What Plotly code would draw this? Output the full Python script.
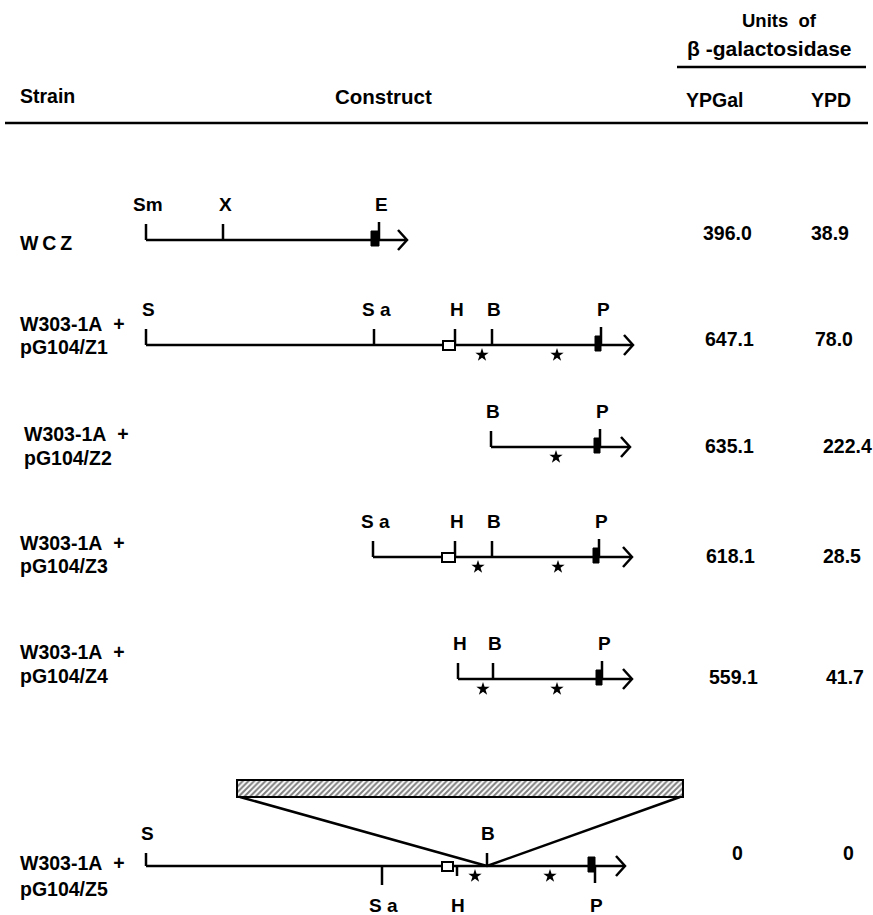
import plotly.graph_objects as go

# ---------------- data ----------------
strain_line1 = ["W\u2009C\u2009Z", "W303-1A\u00a0 +", "W303-1A\u00a0 +", "W303-1A\u00a0 +", "W303-1A\u00a0 +", "W303-1A\u00a0 +"]
strain_line2 = ["", "pG104/Z1", "pG104/Z2", "pG104/Z3", "pG104/Z4", "pG104/Z5"]
ypgal_units = ["396.0", "647.1", "635.1", "618.1", "559.1", "0"]
ypd_units = ["38.9", "78.0", "222.4", "28.5", "41.7", "0"]

# restriction-map positions along the construct axis (name, position, side)
wcz_sites = [("Sm", 146, "up"), ("X", 223, "up"), ("E", 379, "up")]
z1_sites = [("S", 146, "up"), ("S a", 374, "up"), ("H", 455, "up"), ("B", 492, "up"), ("P", 601, "up")]
z2_sites = [("B", 491, "up"), ("P", 600, "up")]
z3_sites = [("S a", 373, "up"), ("H", 455, "up"), ("B", 492, "up"), ("P", 599, "up")]
z4_sites = [("H", 458, "up"), ("B", 493, "up"), ("P", 602, "up")]
z5_sites = [("S", 146, "up"), ("S a", 382, "down"), ("H", 457, "down"), ("B", 487, "up"), ("P", 595, "down")]
construct_sites = [wcz_sites, z1_sites, z2_sites, z3_sites, z4_sites, z5_sites]

construct_start = [146, 146, 491, 373, 458, 146]
construct_end = [407, 633, 630, 632, 632, 625]
open_box = [None, (443, 455), None, (442, 455), None, (442, 453)]
lacz_box = [(371, 379), (595, 601), (594, 600), (593, 599), (596, 602), (588, 595)]
star_pos = [[], [482, 557], [556], [478, 558], [483, 557], [475, 550]]

insert_span = (237, 683)   # hatched insertion in Z5
insert_point = 487

# ---------------- layout ----------------
W, H = 873, 915
row_y = [240, 345, 447, 557, 679, 866]
strain_x = [18, 18, 22, 18, 18, 18]
strain_y1 = [243, 324, 434, 543, 652, 863]
strain_y2 = [None, 347, 458, 566, 676, 889]
ypgal_x = [727, 729, 729, 730, 733, 737]
ypd_x = [830, 834, 847, 842, 845, 848]
value_y = [233, 339, 446, 556, 677, 853]

FS = 19.5
FONT = dict(family="Liberation Sans, Arial, sans-serif", size=FS, color="black", weight="bold")
LW = 2.5

fig = go.Figure()
shapes = []
annotations = []


def line(x0, y0, x1, y1, w=LW):
    shapes.append(dict(type="line", xref="x", yref="y", x0=x0, y0=y0, x1=x1, y1=y1,
                       line=dict(color="black", width=w)))


def text(t, x, y, xanchor="center", size=FS):
    f = dict(FONT)
    f["size"] = size
    annotations.append(dict(text=t, x=x, y=y, xref="x", yref="y", xanchor=xanchor,
                            yanchor="middle", showarrow=False, font=f))


# header
text("Units\u00a0 of", 779, 20, size=18.5)
text("β -galactosidase", 769, 48, size=21)
line(677, 67, 866, 67)
text("Strain", 18, 96, xanchor="left")
text("Construct", 383, 96, size=20.5)
text("YPGal", 714, 100)
text("YPD", 831, 100)
line(5, 123, 868, 123)

star_x, star_y = [], []
for i in range(len(strain_line1)):
    y = row_y[i]
    text(strain_line1[i], strain_x[i], strain_y1[i], xanchor="left")
    if strain_line2[i]:
        text(strain_line2[i], strain_x[i], strain_y2[i], xanchor="left")
    text(ypgal_units[i], ypgal_x[i], value_y[i])
    text(ypd_units[i], ypd_x[i], value_y[i])
    # backbone + arrow
    tip = construct_end[i]
    line(construct_start[i], y, tip - 1, y)
    shapes.append(dict(type="path", xref="x", yref="y",
                       path=f"M {tip-9},{y-10} L {tip},{y} L {tip-9},{y+10}",
                       line=dict(color="black", width=LW)))
    # sites
    for name, pos, side in construct_sites[i]:
        if i == 5:
            if side == "up":
                line(pos, y - 13, pos, y)
                text(name, pos + 1, y - 33, size=19)
            else:
                L = {"S a": 19, "H": 10, "P": 17}.get(name, 14)
                line(pos, y, pos, y + L)
                text(name, pos + 1, y + 39, size=19)
        else:
            L = 18 if name in ("P", "E") else 16
            line(pos, y - L, pos, y)
            text(name, pos + 2, y - 36, size=19)
    # open box
    if open_box[i] is not None:
        a, b = open_box[i]
        shapes.append(dict(type="rect", xref="x", yref="y", x0=a, x1=b, y0=y - 4, y1=y + 5,
                           line=dict(color="black", width=2), fillcolor="white"))
    # lacZ filled box
    a, b = lacz_box[i]
    shapes.append(dict(type="rect", xref="x", yref="y", x0=a, x1=b, y0=y - 9, y1=y + 6,
                       line=dict(color="black", width=1), fillcolor="black"))
    for s in star_pos[i]:
        star_x.append(s)
        star_y.append(y + 10)

fig.add_trace(go.Scatter(x=star_x, y=star_y, mode="markers",
                         marker=dict(symbol="star", size=10, color="black"),
                         hoverinfo="skip"))

# hatched insertion box for Z5
fig.add_trace(go.Bar(orientation="h", y=[788.5], x=[insert_span[1] - insert_span[0]],
                     base=[insert_span[0]], width=[17],
                     marker=dict(color="white", line=dict(color="black", width=2),
                                 pattern=dict(shape="/", fgcolor="black", bgcolor="white",
                                              size=4, solidity=0.5)),
                     hoverinfo="skip"))
line(insert_span[0] + 3, 797, insert_point, row_y[5])
line(insert_span[1] - 3, 797, insert_point, row_y[5])

fig.update_layout(
    width=W, height=H, margin=dict(l=0, r=0, t=0, b=0),
    paper_bgcolor="white", plot_bgcolor="white", showlegend=False,
    xaxis=dict(range=[0, W], visible=False, fixedrange=True),
    yaxis=dict(range=[H, 0], visible=False, fixedrange=True),
    shapes=shapes, annotations=annotations,
)
# remove the default page margin so the figure fills the 873x915 window exactly
fig.write_html("out.html", config={"displayModeBar": False},
               post_script="document.body.style.margin='0';document.body.style.overflow='hidden';")
